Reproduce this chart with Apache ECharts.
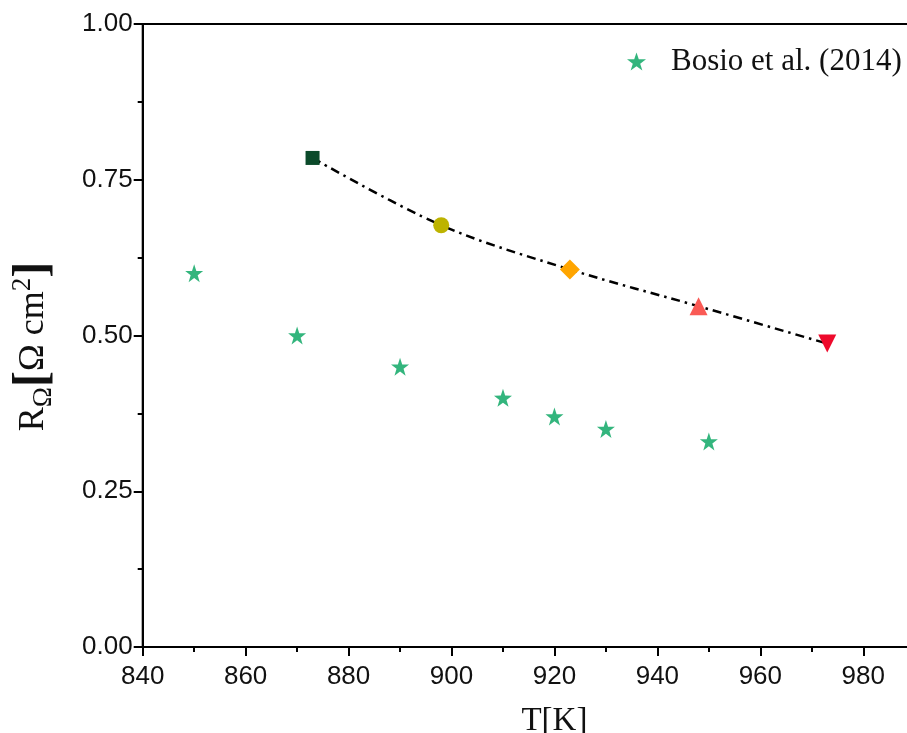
<!DOCTYPE html>
<html>
<head>
<meta charset="utf-8">
<script src="https://cdn.jsdelivr.net/npm/echarts@6/dist/echarts.min.js"></script>
<style>
  html, body { margin: 0; padding: 0; background: #fff; }
  #chart { width: 907px; height: 733px; }
</style>
</head>
<body>
<div id="chart"></div>
<script>
// Bosio et al. (2014) data
const bosioT = [850, 870, 890, 910, 920, 930, 950];
const bosioR = [0.60, 0.50, 0.45, 0.40, 0.37, 0.35, 0.33];

// model points along the dash-dot curve
const modelT = [873, 898, 923, 948, 973];
const modelR = [0.785, 0.677, 0.606, 0.547, 0.487];
const modelSymbols = ['rect', 'circle', 'path://M5,0 L10,5 L5,10 L0,5 Z', 'triangle', 'path://M0,0 L10,0 L5,9 Z'];
const modelColors = ['#0b4a2a', '#bdb300', '#ffa500', '#fa5a55', '#ee0a2c'];
const modelSizes = [14, 16, 20, 18, 18];

const STAR = 'path://M50,0 L61.8,35.1 L98.9,35.5 L69.1,57.6 L80.2,93 L50,71.5 L19.8,93 L30.9,57.6 L1.1,35.5 L38.2,35.1 Z';

const chart = echarts.init(document.getElementById('chart'));

const option = {
    backgroundColor: '#fff',
    animation: false,
    grid: {
        left: 142.7,
        top: 24,
        width: 823.5,
        height: 623,
        outerBoundsMode: 'none',
        containLabel: false,
        show: true,
        borderColor: '#000',
        borderWidth: 2
    },
    legend: {
        left: 622,
        top: 41,
        itemWidth: 19,
        itemHeight: 19,
        itemGap: 10,
        data: [{ name: 'Bosio et al. (2014)', icon: STAR }],
        textStyle: { fontFamily: 'Liberation Serif', fontSize: 31, color: '#111', padding: [0, 0, 0, 20] }
    },
    xAxis: {
        type: 'value',
        min: 840,
        max: 1000,
        interval: 20,
        name: 'T[K]',
        nameLocation: 'middle',
        nameGap: 58,
        nameTextStyle: { fontFamily: 'Liberation Serif', fontSize: 33, color: '#111' },
        axisLine: { onZero: false, lineStyle: { color: '#000', width: 2 } },
        axisTick: { show: true, inside: false, length: 9, lineStyle: { color: '#000', width: 2 } },
        minorTick: { show: true, splitNumber: 2, length: 5, lineStyle: { color: '#000', width: 2 } },
        axisLabel: { fontFamily: 'Liberation Sans', fontSize: 26, color: '#111', margin: 17 },
        splitLine: { show: false }
    },
    yAxis: {
        type: 'value',
        min: 0,
        max: 1,
        interval: 0.25,
        name: '{b|R}{sub|Ω}{br|[}{b|Ω cm}{sup|2}{br|]}',
        nameLocation: 'middle',
        nameRotate: 90,
        nameGap: 85,
        nameTextStyle: {
            fontFamily: 'Liberation Serif',
            color: '#111',
            padding: [0, 22, 0, 0],
            rich: {
                b: { fontFamily: 'Liberation Serif', fontSize: 36, color: '#111', verticalAlign: 'middle' },
                sub: { fontFamily: 'Liberation Serif', fontSize: 27, color: '#111', verticalAlign: 'bottom', padding: [18, 0, 0, 0] },
                sup: { fontFamily: 'Liberation Serif', fontSize: 27, color: '#111', verticalAlign: 'top', padding: [0, 0, 16, 0] },
                br: { fontFamily: 'Liberation Serif', fontSize: 48, fontWeight: 'bold', color: '#111', verticalAlign: 'middle' }
            }
        },
        axisLine: { lineStyle: { color: '#000', width: 2 } },
        axisTick: { show: true, inside: false, length: 9, lineStyle: { color: '#000', width: 2 } },
        minorTick: { show: true, splitNumber: 2, length: 5, lineStyle: { color: '#000', width: 2 } },
        axisLabel: {
            fontFamily: 'Liberation Sans', fontSize: 26, color: '#111', margin: 10,
            formatter: v => v.toFixed(2)
        },
        splitLine: { show: false }
    },
    series: [
        {
            name: 'Bosio et al. (2014)',
            type: 'scatter',
            symbol: STAR,
            symbolSize: 18,
            itemStyle: { color: '#00a35c' },
            data: bosioT.map((t, i) => [t, bosioR[i]])
        },
        {
            name: 'model',
            type: 'line',
            smooth: 0.35,
            showSymbol: true,
            z: 3,
            lineStyle: { color: '#000', width: 2.5, type: [9, 5, 2.5, 5] },
            data: modelT.map((t, i) => ({
                value: [t, modelR[i]],
                symbol: modelSymbols[i],
                symbolSize: modelSizes[i],
                itemStyle: { color: modelColors[i] }
            }))
        }
    ]
};

chart.setOption(option);
</script>
</body>
</html>
